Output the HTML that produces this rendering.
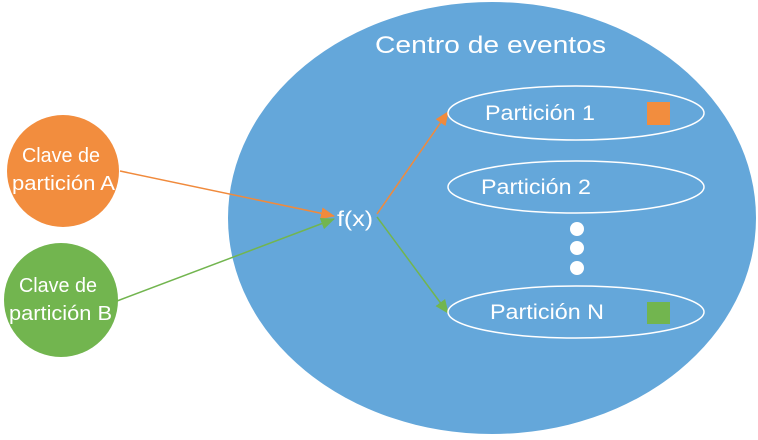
<!DOCTYPE html>
<html><head><meta charset="utf-8"><style>
html,body{margin:0;padding:0;background:#fff;}
svg text{font-family:"Liberation Sans",sans-serif;fill:#fff;}
</style></head><body>
<svg width="758" height="435" viewBox="0 0 758 435" xmlns="http://www.w3.org/2000/svg">
<defs>
<marker id="ao" markerWidth="14" markerHeight="12" refX="13" refY="6" orient="auto" markerUnits="userSpaceOnUse"><path d="M0,0 L14,6 L0,12 z" fill="#f08a3c"/></marker>
<marker id="ag" markerWidth="14" markerHeight="12" refX="13" refY="6" orient="auto" markerUnits="userSpaceOnUse"><path d="M0,0 L14,6 L0,12 z" fill="#72b54f"/></marker>
</defs>
<ellipse cx="492" cy="218" rx="264" ry="216" fill="#64a7da"/>
<text x="375" y="53" font-size="24" textLength="231" lengthAdjust="spacingAndGlyphs">Centro de eventos</text>
<circle cx="63" cy="171" r="56" fill="#f28d3e"/>
<text x="22" y="162" font-size="20" textLength="78" lengthAdjust="spacingAndGlyphs">Clave de</text>
<text x="12" y="190" font-size="20" textLength="103" lengthAdjust="spacingAndGlyphs">partición A</text>
<circle cx="61" cy="300" r="57" fill="#72b54f"/>
<text x="19" y="292" font-size="20" textLength="78" lengthAdjust="spacingAndGlyphs">Clave de</text>
<text x="9" y="320" font-size="20" textLength="103" lengthAdjust="spacingAndGlyphs">partición B</text>
<line x1="120" y1="171" x2="334" y2="216" stroke="#f08a3c" stroke-width="1.5" marker-end="url(#ao)"/>
<line x1="117" y1="301" x2="334" y2="219" stroke="#72b54f" stroke-width="1.5" marker-end="url(#ag)"/>
<text x="337" y="226" font-size="21" textLength="36" lengthAdjust="spacingAndGlyphs">f(x)</text>
<line x1="377" y1="214" x2="448" y2="112" stroke="#f08a3c" stroke-width="1.5" marker-end="url(#ao)"/>
<line x1="377" y1="217" x2="448" y2="313" stroke="#72b54f" stroke-width="1.5" marker-end="url(#ag)"/>
<g fill="none" stroke="#fff" stroke-width="1.5">
<ellipse cx="576" cy="113" rx="128" ry="27"/>
<ellipse cx="576" cy="187" rx="128" ry="26"/>
<ellipse cx="576" cy="312" rx="128" ry="26"/>
</g>
<text x="485" y="120" font-size="21" textLength="110" lengthAdjust="spacingAndGlyphs">Partición 1</text>
<text x="481" y="194" font-size="21" textLength="110" lengthAdjust="spacingAndGlyphs">Partición 2</text>
<text x="490" y="319" font-size="21" textLength="114" lengthAdjust="spacingAndGlyphs">Partición N</text>
<rect x="647" y="102" width="23" height="23" fill="#f28d3e"/>
<rect x="647" y="302" width="23" height="22" fill="#72b54f"/>
<circle cx="577" cy="229" r="7" fill="#fff"/>
<circle cx="577" cy="248" r="7" fill="#fff"/>
<circle cx="577" cy="268" r="7" fill="#fff"/>
</svg>
</body></html>
